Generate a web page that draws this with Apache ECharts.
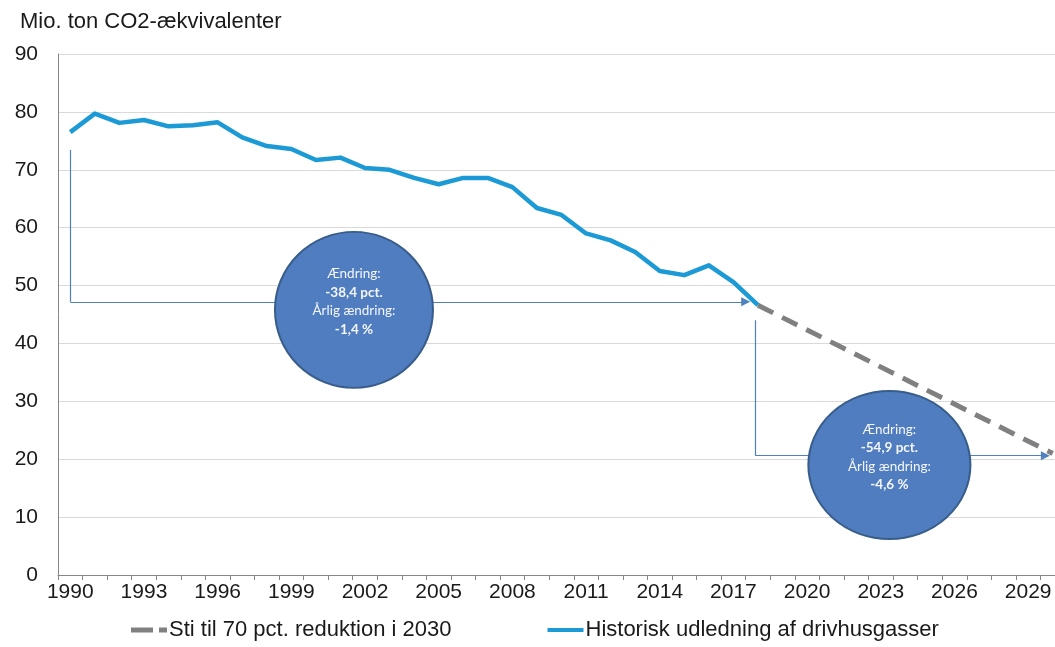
<!DOCTYPE html>
<html>
<head>
<meta charset="utf-8">
<script src="https://cdn.jsdelivr.net/npm/echarts@6/dist/echarts.min.js"></script>
<style>
html,body{margin:0;padding:0;background:#fff;}
#chart{width:1055px;height:647px;}
</style>
</head>
<body>
<div id="chart"></div>
<script>
// ---- data ----
const years = [];
for (let y = 1990; y <= 2030; y++) years.push(String(y));

// Historic emissions 1990-2018 (Mio. ton CO2-ækv.)
const historicValues = [76.5, 79.7, 78.1, 78.6, 77.5, 77.7, 78.2, 75.6, 74.1, 73.6,
  71.7, 72.1, 70.3, 70.0, 68.6, 67.5, 68.6, 68.6, 67.0, 63.4,
  62.2, 59.0, 57.8, 55.8, 52.5, 51.8, 53.5, 50.6, 46.6];

// Path to 70 pct. reduction: from 2018 level to 2030 target
const pathStart = { year: '2018', value: 46.6 };
const pathEnd = { year: '2030', value: 21.0 };

const seriesNames = ['Sti til 70 pct. reduktion i 2030', 'Historisk udledning af drivhusgasser'];
const yTicks = { min: 0, max: 90, interval: 10 };
const titleText = 'Mio. ton CO2-ækvivalenter';

// Annotation arrows (year, value)
const arrowVertical = [
  [[1990, 73.4], [1990, 47.2]],
  [[2017.9, 44.0], [2017.9, 20.6]]
];
const arrowHorizontal = [
  [[1990, 47.2], [2017.5, 47.2]],
  [[2017.9, 20.6], [2029.7, 20.6]]
];
// Annotation bubbles: [year, value]
const bubblePos = [[2001.55, 45.8], [2023.35, 19.0]];
const bubbleText = [
  ['Ændring:', '-38,4 pct.', 'Årlig ændring:', '-1,4 %'],
  ['Ændring:', '-54,9 pct.', 'Årlig ændring:', '-4,6 %']
];

// ---- build ----
const historicData = years.map((y, i) => i < historicValues.length ? historicValues[i] : null);
const pathData = years.map(y => y === pathStart.year ? pathStart.value : (y === pathEnd.year ? pathEnd.value : null));

const chart = echarts.init(document.getElementById('chart'), null, { renderer: 'canvas' });
const FONT = '"Liberation Sans", Arial, sans-serif';
const BFONT = 'Lato, "Open Sans", sans-serif';

const option = {
  backgroundColor: '#ffffff',
  animation: false,
  title: {
    text: titleText,
    left: 15, top: 6,
    textStyle: { fontFamily: FONT, fontSize: 22, fontWeight: 'normal', color: '#1a1a1a' }
  },
  legend: {
    bottom: 1,
    left: 126,
    itemGap: 96,
    itemWidth: 36,
    itemHeight: 10,
    data: [
      { name: seriesNames[0], icon: 'path://M0,4 h22 v5 h-22 z M28,4 h8 v5 h-8 z', itemStyle: { color: '#808080' } },
      { name: seriesNames[1], icon: 'path://M0,4 h36 v4 h-36 z', itemStyle: { color: '#1b9ad6' } }
    ],
    textStyle: { fontFamily: FONT, fontSize: 22, color: '#1a1a1a', padding: [0, 0, 0, -3] }
  },
  grid: { left: 58, top: 54, bottom: 72, width: 1007, containLabel: false, outerBoundsMode: 'none' },
  xAxis: [
    {
      type: 'category',
      data: years,
      boundaryGap: true,
      axisLine: { lineStyle: { color: '#868686', width: 1 } },
      axisTick: { show: true, interval: 0, length: 5, lineStyle: { color: '#868686' } },
      axisLabel: { interval: 2, fontFamily: FONT, fontSize: 21, color: '#1a1a1a', margin: 7, hideOverlap: false },
      splitLine: { show: false }
    },
    {
      type: 'value',
      min: 1989.5, max: 2030.5,
      show: false
    }
  ],
  yAxis: {
    type: 'value',
    min: yTicks.min, max: yTicks.max, interval: yTicks.interval,
    axisLine: { show: true, lineStyle: { color: '#868686', width: 1 } },
    axisTick: { show: false },
    axisLabel: { fontFamily: FONT, fontSize: 21, color: '#1a1a1a', margin: 20 },
    splitLine: { lineStyle: { color: '#d9d9d9', width: 1 } }
  },
  series: [
    {
      name: seriesNames[0],
      type: 'line',
      data: pathData,
      connectNulls: true,
      showSymbol: false,
      symbol: 'none',
      lineStyle: { color: '#808080', width: 5, type: [17, 10] },
      itemStyle: { color: '#808080' },
      z: 3
    },
    {
      name: seriesNames[1],
      type: 'line',
      data: historicData,
      showSymbol: false,
      symbol: 'none',
      lineStyle: { color: '#1b9ad6', width: 4.5, join: 'round' },
      itemStyle: { color: '#1b9ad6' },
      z: 4
    },
    {
      type: 'lines',
      coordinateSystem: 'cartesian2d',
      xAxisIndex: 1,
      yAxisIndex: 0,
      symbol: ['none', 'none'],
      lineStyle: { color: '#4f81bd', width: 1.2, opacity: 1 },
      data: arrowVertical.map(c => ({ coords: c })),
      z: 2,
      silent: true
    },
    {
      type: 'lines',
      coordinateSystem: 'cartesian2d',
      xAxisIndex: 1,
      yAxisIndex: 0,
      symbol: ['none', 'triangle'],
      symbolSize: [0, 9],
      lineStyle: { color: '#4f81bd', width: 1.2, opacity: 1 },
      data: arrowHorizontal.map(c => ({ coords: c })),
      z: 2,
      silent: true
    },
    {
      type: 'scatter',
      xAxisIndex: 1,
      yAxisIndex: 0,
      symbol: 'circle',
      symbolSize: (val, p) => p.dataIndex === 0 ? [158, 156] : [162, 148],
      itemStyle: { color: '#4f7dbf', borderColor: '#385d8a', borderWidth: 2, opacity: 1 },
      data: bubblePos.map((p, i) => ({
        value: p,
        label: {
          show: true,
          position: 'inside',
          offset: [0, -8],
          formatter: '{n|' + bubbleText[i][0] + '}\n{b|' + bubbleText[i][1] + '}\n{n|' + bubbleText[i][2] + '}\n{b|' + bubbleText[i][3] + '}'
        }
      })),
      label: {
        rich: {
          n: { fontFamily: BFONT, fontSize: 13.5, color: '#f4f6fb', lineHeight: 18.5, align: 'center' },
          b: { fontFamily: BFONT, fontSize: 13.5, fontWeight: 'bold', color: '#f4f6fb', lineHeight: 18.5, align: 'center' }
        }
      },
      z: 5,
      silent: true
    }
  ]
};
chart.setOption(option);
</script>
</body>
</html>
